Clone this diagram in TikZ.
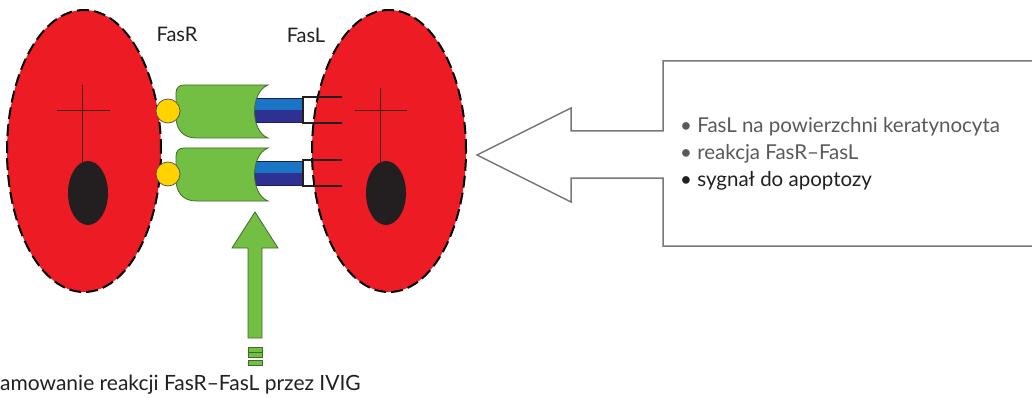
\documentclass[tikz,border=0pt]{standalone}
\usepackage{fontspec}
\setmainfont{Lato}
\usetikzlibrary{shapes.geometric}
\definecolor{cellred}{HTML}{ED1C24}
\definecolor{recgreen}{HTML}{72BF44}
\definecolor{recedge}{HTML}{3F6B2E}
\definecolor{ylw}{HTML}{FFD200}
\definecolor{lblue}{HTML}{1A75C4}
\definecolor{dblue}{HTML}{2E3192}
\definecolor{boxgray}{HTML}{77787B}
\definecolor{txtgray}{HTML}{58595B}
\definecolor{txtdark}{HTML}{231F20}
\definecolor{crossc}{HTML}{4A1010}
\tikzset{
  cell/.style={ellipse, fill=cellred, draw=black, line width=2pt, dash pattern=on 12pt off 5pt, minimum width=154pt, minimum height=282pt, inner sep=0pt},
  nucleus/.style={ellipse, fill=txtdark, draw=none, minimum width=40pt, minimum height=64pt, inner sep=0pt},
  crossline/.style={draw=crossc, line width=0.8pt},
  ylwdot/.style={circle, fill=ylw, draw=txtdark!80, line width=0.7pt, minimum size=24pt, inner sep=0pt},
  receptor/.style={fill=recgreen, draw=recedge, line width=0.8pt},
  bracket/.style={draw=txtdark, line width=1.3pt},
  uparrow/.style={fill=recgreen, draw=recedge, line width=0.8pt},
  boxline/.style={draw=boxgray, line width=1.5pt, line join=miter},
  lbl/.style={inner sep=0pt, text=txtdark, font=\fontsize{20}{24}\selectfont},
  listtxt/.style={inner sep=0pt, anchor=base west, font=\fontsize{20.5}{24}\selectfont},
}
\begin{document}
\begin{tikzpicture}[x=1pt,y=-1pt]
\useasboundingbox (0,0) rectangle (1032,398);
% cells
\node[cell] (cellL) at (84,151) {};
\node[cell] (cellR) at (389,151) {};
% crosses and nuclei
\node[nucleus] (nucL) at (88,193) {};
\node[nucleus] (nucR) at (386,193) {};
\coordinate (cLtop) at (82,85);
\coordinate (cRtop) at (380,88);
\draw[crossline] (cLtop) -- (82,162);
\draw[crossline] (57,110) -- (110,110);
\draw[crossline] (cRtop) -- (380,162);
\draw[crossline] (355,110) -- (407,110);
% receptor complexes
\foreach \d/\nm in {0/a,63/b}{
  \fill[lblue] (252,98+\d) rectangle (303,110+\d);
  \fill[dblue] (252,110+\d) rectangle (303,122+\d);
  \draw[dblue!60!black, line width=0.4pt] (252,98+\d) rectangle (303,122+\d);
  \draw[receptor] (184,85+\d) -- (268,85+\d)
     .. controls (250,92+\d) and (250,131+\d) .. (268,138+\d)
     -- (196,138+\d) .. controls (183,138+\d) and (176,129+\d) .. (176,117+\d)
     -- (176,93+\d) .. controls (176,88+\d) and (179,85+\d) .. (184,85+\d) -- cycle;
  \draw[bracket] (342,97+\d) -- (303,97+\d) -- (303,123+\d) -- (342,123+\d);
  \node[ylwdot] (dot\nm) at (168,111+\d) {};
}
% labels
\node[lbl, anchor=base] (fasr) at (177,42) {FasR};
\node[lbl, anchor=base] (fasl) at (306,43) {FasL};
% green up arrow
\draw[uparrow] (255,212) -- (278,248) -- (262,248) -- (262,338) -- (248,338) -- (248,248) -- (232,248) -- cycle;
\draw[uparrow] (248,347) rectangle (262,352);
\draw[uparrow] (248,352) rectangle (262,357);
\draw[uparrow] (248,360) rectangle (262,365);
\node[inner sep=0pt, anchor=base west, text=txtdark, font=\fontsize{21}{25}\selectfont] (inhib) at (0,390) {amowanie reakcji FasR–FasL przez IVIG};
% big outline arrow + box
\draw[boxline] (1032,61) -- (663,61) -- (663,131) -- (571,131) -- (571,108) -- (477,155) -- (571,202) -- (571,178) -- (663,178) -- (663,246) -- (1032,246);
\node[listtxt, text=txtgray] (li1) at (680,133) {• FasL na powierzchni keratynocyta};
\node[listtxt, text=txtgray] (li2) at (680,160) {• reakcja FasR–FasL};
\node[listtxt, text=txtdark] (li3) at (680,186) {• sygnał do apoptozy};
\end{tikzpicture}
\end{document}
